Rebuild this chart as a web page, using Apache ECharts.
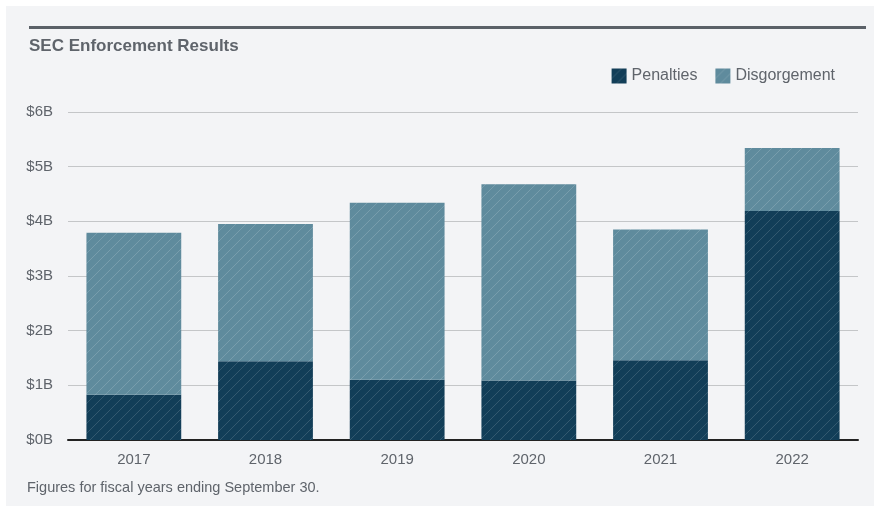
<!DOCTYPE html>
<html>
<head>
<meta charset="utf-8">
<script src="https://cdn.jsdelivr.net/npm/echarts@6/dist/echarts.min.js"></script>
<style>
html,body{margin:0;padding:0;background:#ffffff;}
#wrap{position:absolute;left:6px;top:6px;width:868px;height:500px;background:#f3f4f6;}
#chart{position:absolute;left:0;top:0;width:874px;height:506px;}
</style>
</head>
<body>
<div id="wrap"></div>
<div id="chart"></div>
<script>
const years = ['2017', '2018', '2019', '2020', '2021', '2022'];
const penalties = [0.83, 1.44, 1.10, 1.09, 1.46, 4.19];
const disgorgement = [2.96, 2.51, 3.24, 3.59, 2.39, 1.15];
const yTicks = [0, 1, 2, 3, 4, 5, 6];

function hatch(base, alpha) {
  const c = document.createElement('canvas');
  c.width = 10; c.height = 10;
  const g = c.getContext('2d');
  g.fillStyle = base;
  g.fillRect(0, 0, 10, 10);
  g.strokeStyle = 'rgba(255,255,255,' + alpha + ')';
  g.lineWidth = 1;
  g.beginPath();
  g.moveTo(-1, 11); g.lineTo(11, -1);
  g.moveTo(-6, 6); g.lineTo(6, -6);
  g.moveTo(4, 16); g.lineTo(16, 4);
  g.stroke();
  return { image: c, repeat: 'repeat' };
}

const txt = '#5f646b';
const font = '"Liberation Sans", Arial, Helvetica, sans-serif';
const chart = echarts.init(document.getElementById('chart'), null, { renderer: 'canvas' });
chart.setOption({
  backgroundColor: 'transparent',
  animation: false,
  textStyle: { fontFamily: font, color: txt },
  title: {
    text: 'SEC Enforcement Results',
    left: 24, top: 33,
    textStyle: { fontFamily: font, fontSize: 17, fontWeight: 'bold', color: txt }
  },
  graphic: [
    { type: 'rect', shape: { x: 29, y: 26, width: 837, height: 3 }, style: { fill: '#5b6168' } },
    { type: 'text', left: 27, top: 480, style: { text: 'Figures for fiscal years ending September 30.', font: '14.5px ' + font, fill: txt } }
  ],
  legend: {
    right: 34, top: 63,
    icon: 'rect',
    itemWidth: 15, itemHeight: 15, itemGap: 18,
    textStyle: { fontFamily: font, fontSize: 16, color: txt },
    data: ['Penalties', 'Disgorgement']
  },
  grid: { left: 68, right: 16, top: 112, bottom: 66 },
  xAxis: {
    type: 'category',
    data: years,
    axisLine: { lineStyle: { color: '#222222', width: 2 } },
    axisTick: { show: false },
    axisLabel: { fontSize: 15, color: txt, margin: 12, fontFamily: font }
  },
  yAxis: {
    type: 'value',
    min: yTicks[0], max: yTicks[yTicks.length - 1], interval: 1,
    axisLine: { show: false },
    axisTick: { show: false },
    splitLine: { lineStyle: { color: '#c4c6c8', width: 1 } },
    axisLabel: { fontSize: 15, color: txt, margin: 15, fontFamily: font, formatter: v => '$' + v + 'B' }
  },
  series: [
    { name: 'Penalties', type: 'bar', stack: 't', data: penalties, barWidth: '72%',
      itemStyle: { color: hatch('#123e58', 0.14) } },
    { name: 'Disgorgement', type: 'bar', stack: 't', data: disgorgement, barWidth: '72%',
      itemStyle: { color: hatch('#5f8b9d', 0.16) } }
  ]
});
</script>
</body>
</html>
